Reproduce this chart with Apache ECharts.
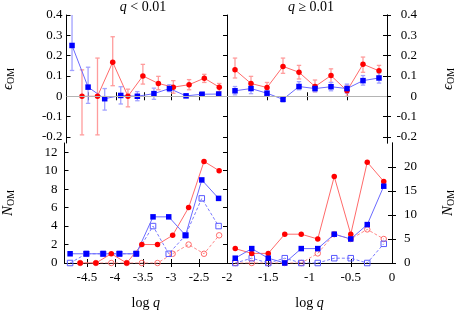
<!DOCTYPE html>
<html><head><meta charset="utf-8">
<script src="https://cdn.jsdelivr.net/npm/echarts@6/dist/echarts.min.js"></script>
<style>html,body{margin:0;padding:0;background:#fff}#c{width:457px;height:311px}</style>
</head><body><div id="c"></div>
<script>
// ---- data ----
const xBlueL = [-4.80, -4.51, -4.21, -3.92, -3.62, -3.32, -3.04, -2.74, -2.45, -2.15];
const xRedL  = [-4.62, -4.34, -4.065, -3.79, -3.52, -3.24, -2.97, -2.685, -2.41, -2.14];
const xR     = [-1.9, -1.7, -1.5, -1.3, -1.1, -0.9, -0.7, -0.5, -0.3, -0.1];

const epsBlueL   = [0.25, 0.045, -0.012, 0.004, 0.0, 0.013, 0.038, 0.002, 0.01, 0.011];
const epsBlueLLo = [0.127, -0.035, -0.068, -0.038, -0.022, -0.015, 0.023, -0.005, 0.002, 0.004];
const epsBlueLHi = [0.6, 0.143, 0.038, 0.047, 0.023, 0.04, 0.057, 0.009, 0.018, 0.018];
const epsRedL    = [0, 0, 0.168, 0, 0.1, 0.063, 0.045, 0.057, 0.089, 0.045];
const epsRedLLo  = [-0.19, -0.19, 0.052, -0.052, 0.06, 0.032, 0.015, 0.032, 0.068, 0.023];
const epsRedLHi  = [0.13, 0.188, 0.293, 0.035, 0.157, 0.098, 0.077, 0.082, 0.108, 0.063];

const epsRedR    = [0.13, 0.063, 0.043, 0.147, 0.118, 0.048, 0.102, 0.027, 0.158, 0.125];
const epsRedRLo  = [0.09, 0.03, 0.022, 0.113, 0.085, 0.022, 0.068, 0.0, 0.118, 0.098];
const epsRedRHi  = [0.188, 0.098, 0.068, 0.188, 0.152, 0.08, 0.135, 0.055, 0.193, 0.152];
const epsBlueR   = [0.027, 0.038, 0.015, -0.015, 0.048, 0.038, 0.047, 0.038, 0.077, 0.09];
const epsBlueRLo = [0.007, 0.013, 0.002, -0.028, 0.032, 0.022, 0.027, 0.015, 0.055, 0.065];
const epsBlueRHi = [0.048, 0.06, 0.032, -0.002, 0.072, 0.055, 0.068, 0.06, 0.102, 0.115];

const nRedL      = [0, 0, 1, 0, 2, 2, 3, 6, 11, 10];
const nRedOpenL  = [0, 0, 0, 0, 0, 0, 1, 2, 1, 3];
const nBlueL     = [1, 1, 1, 1, 1, 5, 5, 3, 9, 7];
const nBlueOpenL = [0, 1, 1, 1, 1, 4, 1, 3, 7, 4];

const nRedR      = [3, 2, 2, 6, 6, 5, 18, 6, 21, 17];
const nRedOpenR  = [0, 0, 0, 0, 0, 2, 6, 5, 7, 5];
const nBlueR     = [1, 3, 1, 0, 3, 3, 6, 5, 8, 16];
const nBlueOpenR = [0, 1, 0, 1, 0, 0, 1, 1, 0, 4];

const xLabelsL = [-4.5, -4, -3.5, -3, -2.5];
const xLabelsR = [-2, -1.5, -1, -0.5, 0];
const xTicksR  = [-1.5, -1, -0.5];
const epsTicks = [-0.2, -0.1, 0, 0.1, 0.2, 0.3, 0.4];
const nTicksL  = [0, 2, 4, 6, 8, 10, 12];
const nTicksR  = [0, 5, 10, 15, 20];

// ---- chart ----
const FONT = 'Liberation Serif';
const RED = '#ff0000', RED_LINE = '#ff6a6a', RED_BAR = '#ff9c9c';
const BLUE = '#0000ff', BLUE_LINE = '#6a6aff', BLUE_BAR = '#a2a2ff';

const pairs = (xs, ys) => xs.map((x, i) => [x, ys[i]]);
const triples = (xs, lo, hi) => xs.map((x, i) => [x, lo[i], hi[i]]);
const fmt = v => String(Math.round(v * 100) / 100);

const grids = [
  {left: 59, top: 15, width: 168, height: 128},
  {left: 227, top: 15, width: 168, height: 128},
  {left: 59, top: 143, width: 168, height: 127},
  {left: 227, top: 143, width: 168, height: 127}
];

const lineAx = {show: true, lineStyle: {color: '#000', width: 1}};
function ax(gridIndex, min, max, position, ticks, labels, extra) {
  const o = {
    type: 'value', gridIndex, min, max, position,
    splitLine: {show: false},
    axisLine: lineAx,
    axisTick: {show: true, inside: true, length: 4, customValues: ticks, lineStyle: {color: '#000'}},
    axisLabel: labels ? {show: true, customValues: labels, formatter: fmt,
                         fontFamily: FONT, fontSize: 13, color: '#000'} : {show: false}
  };
  return Object.assign(o, extra || {});
}

const xName = {
  name: '{a|log }{i|q}', nameLocation: 'middle', nameGap: 33,
  nameTextStyle: {rich: {a: {fontFamily: FONT, fontSize: 14, color: '#000'},
                         i: {fontFamily: FONT, fontSize: 14, fontStyle: 'italic', color: '#000'}}}
};
function yName(main, gap, italic) {
  return {
    name: '{m|' + main + '}{s|OM}', nameLocation: 'middle', nameGap: gap, nameRotate: 90,
    nameTextStyle: {rich: {
      m: {fontFamily: FONT, fontSize: 15, fontStyle: italic ? 'italic' : 'normal', color: '#000'},
      s: {fontFamily: FONT, fontSize: 10, color: '#000', verticalAlign: 'bottom', padding: [6, 0, 0, 0]}
    }}
  };
}

const xTicksL = xLabelsL;
const xAxis = [
  ax(0, -4.9, -2, 'bottom', xTicksL, null),
  ax(0, -4.9, -2, 'top', xTicksL, null),
  ax(1, -2, 0, 'bottom', xTicksR, null),
  ax(1, -2, 0, 'top', xTicksR, null),
  ax(2, -4.9, -2, 'bottom', xTicksL, xLabelsL, Object.assign({}, xName)),
  ax(2, -4.9, -2, 'top', xTicksL, null),
  ax(3, -2, 0, 'bottom', xTicksR, xLabelsR, Object.assign({}, xName)),
  ax(3, -2, 0, 'top', xTicksR, null)
];
xAxis[4].axisLabel.margin = 8;
xAxis[6].axisLabel.margin = 8;

const yAxis = [
  ax(0, -0.23, 0.4, 'left', epsTicks, epsTicks, yName('\u03f5', 50, true)),
  ax(0, -0.23, 0.4, 'right', epsTicks, null),
  ax(1, -0.23, 0.4, 'left', epsTicks, null),
  ax(1, -0.23, 0.4, 'right', epsTicks, epsTicks, yName('\u03f5', 53, true)),
  ax(2, 0, 13, 'left', nTicksL, nTicksL, yName('N', 48, true)),
  ax(2, 0, 13, 'right', nTicksL, null),
  ax(3, 0, 25, 'left', nTicksR, null),
  ax(3, 0, 25, 'right', nTicksR, nTicksR, yName('N', 48, true))
];
yAxis[0].axisLabel.margin = 4;
yAxis[3].axisLabel.margin = 30;
yAxis[3].axisLabel.align = 'right';
yAxis[4].axisLabel.margin = 7;
yAxis[7].axisLabel.margin = 12;

function errSeries(xi, yi, data, color, withZero) {
  const s = {
    type: 'custom', xAxisIndex: xi, yAxisIndex: yi, data, clip: true, z: 2, silent: true,
    encode: {x: 0, y: [1, 2]},
    renderItem: function (params, api) {
      const x = api.value(0), lo = api.value(1), hi = api.value(2);
      const p1 = api.coord([x, lo]), p2 = api.coord([x, hi]);
      const w = 2.2;
      const st = {stroke: color, lineWidth: 1.3};
      return {type: 'group', children: [
        {type: 'line', shape: {x1: p1[0], y1: p1[1], x2: p2[0], y2: p2[1]}, style: st},
        {type: 'line', shape: {x1: p1[0] - w, y1: p1[1], x2: p1[0] + w, y2: p1[1]}, style: st},
        {type: 'line', shape: {x1: p2[0] - w, y1: p2[1], x2: p2[0] + w, y2: p2[1]}, style: st}
      ]};
    }
  };
  if (withZero) {
    s.markLine = {silent: true, symbol: 'none', label: {show: false}, animation: false,
      lineStyle: {color: '#b4b4b4', type: 'solid', width: 1.2}, data: [{yAxis: 0}]};
  }
  return s;
}
function lineSeries(xi, yi, data, marker, mcolor, lcolor, open) {
  return {
    type: 'line', xAxisIndex: xi, yAxisIndex: yi, data, z: open ? 3 : 4,
    symbol: marker, symbolSize: marker === 'rect' ? 5.5 : 5.5, showSymbol: true,
    itemStyle: open ? {color: 'rgba(0,0,0,0)', borderColor: mcolor, borderWidth: 1}
                    : {color: mcolor, borderWidth: 0},
    lineStyle: {color: lcolor, width: 1, type: open ? [3, 2] : 'solid'},
    animation: false, silent: true
  };
}

const series = [
  // top-left
  errSeries(0, 0, triples(xRedL, epsRedLLo, epsRedLHi), RED_BAR, true),
  errSeries(0, 0, triples(xBlueL, epsBlueLLo, epsBlueLHi), BLUE_BAR, false),
  lineSeries(0, 0, pairs(xRedL, epsRedL), 'circle', RED, RED_LINE, false),
  lineSeries(0, 0, pairs(xBlueL, epsBlueL), 'rect', BLUE, BLUE_LINE, false),
  // top-right
  errSeries(2, 2, triples(xR, epsRedRLo, epsRedRHi), RED_BAR, true),
  errSeries(2, 2, triples(xR, epsBlueRLo, epsBlueRHi), BLUE_BAR, false),
  lineSeries(2, 2, pairs(xR, epsRedR), 'circle', RED, RED_LINE, false),
  lineSeries(2, 2, pairs(xR, epsBlueR), 'rect', BLUE, BLUE_LINE, false),
  // bottom-left
  lineSeries(4, 4, pairs(xRedL, nRedOpenL), 'circle', '#ff6a6a', '#ff8a8a', true),
  lineSeries(4, 4, pairs(xBlueL, nBlueOpenL), 'rect', '#5a5aff', '#7a7aff', true),
  lineSeries(4, 4, pairs(xRedL, nRedL), 'circle', RED, RED_LINE, false),
  lineSeries(4, 4, pairs(xBlueL, nBlueL), 'rect', BLUE, BLUE_LINE, false),
  // bottom-right
  lineSeries(6, 6, pairs(xR, nRedOpenR), 'circle', '#ff6a6a', '#ff8a8a', true),
  lineSeries(6, 6, pairs(xR, nBlueOpenR), 'rect', '#5a5aff', '#7a7aff', true),
  lineSeries(6, 6, pairs(xR, nRedR), 'circle', RED, RED_LINE, false),
  lineSeries(6, 6, pairs(xR, nBlueR), 'rect', BLUE, BLUE_LINE, false)
];

const titleRich = {
  i: {fontFamily: FONT, fontSize: 14, fontStyle: 'italic', fill: '#000'},
  a: {fontFamily: FONT, fontSize: 14, fill: '#000'}
};
const graphic = [
  {type: 'text', x: 143, y: 7, style: {text: '{i|q}{a| < 0.01}', rich: titleRich,
     align: 'center', verticalAlign: 'middle'}},
  {type: 'text', x: 311, y: 7, style: {text: '{i|q}{a| \u2265 0.01}', rich: titleRich,
     align: 'center', verticalAlign: 'middle'}}
];

const chart = echarts.init(document.getElementById('c'), null, {renderer: 'canvas'});
chart.setOption({animation: false, grid: grids, xAxis, yAxis, series, graphic});
</script>
</body></html>
